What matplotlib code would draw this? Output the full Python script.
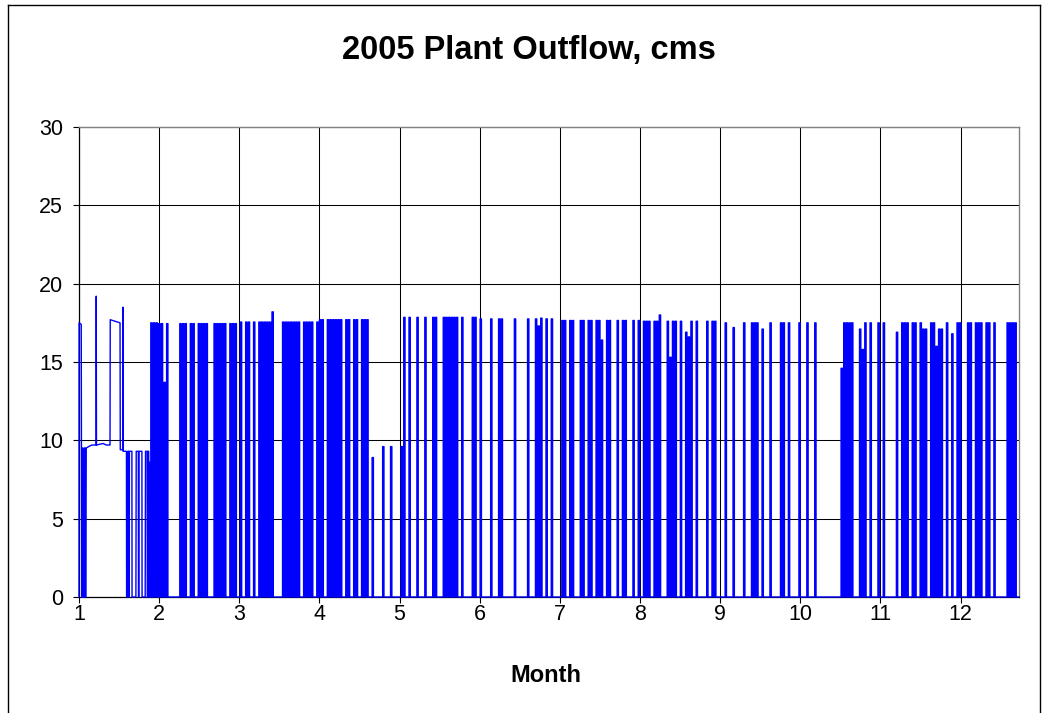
import matplotlib
matplotlib.use("Agg")
import matplotlib.pyplot as plt
from matplotlib.lines import Line2D

plt.rcParams['font.family'] = ['Liberation Sans', 'DejaVu Sans']

# ---------------- data ----------------
title_text = "2005 Plant Outflow, cms"
x_label_text = "Month"
month_ticks = [1, 2, 3, 4, 5, 6, 7, 8, 9, 10, 11, 12]
y_ticks = [0, 5, 10, 15, 20, 25, 30]
x_min, x_max = 1.0, 12.73
y_min, y_max = 0, 30

# January detail (month position, flow in cms)
jan_points = [
    (1.000, 0.0), (1.001, 17.5), (1.028, 17.4), (1.031, 9.5), (1.034, 0.0),
    (1.037, 9.5), (1.040, 0.0), (1.044, 9.5), (1.047, 0.0), (1.051, 6.1),
    (1.055, 0.0), (1.059, 9.5), (1.062, 0.0), (1.066, 9.5), (1.069, 0.0),
    (1.073, 9.5), (1.076, 0.0), (1.080, 9.5), (1.083, 0.0), (1.088, 9.5),
    (1.120, 9.6), (1.160, 9.7), (1.213, 9.7), (1.215, 19.2), (1.218, 9.7),
    (1.300, 9.8), (1.340, 9.7), (1.387, 9.7), (1.390, 17.7), (1.450, 17.6),
    (1.512, 17.5), (1.515, 9.4), (1.545, 9.4), (1.548, 18.5), (1.551, 9.3),
    (1.592, 9.3), (1.594, 0.0), (1.606, 0.0), (1.608, 9.3), (1.620, 9.3),
    (1.622, 0.0), (1.627, 0.0), (1.629, 9.3), (1.660, 9.3), (1.662, 0.0),
    (1.710, 0.0), (1.714, 9.3), (1.740, 9.3), (1.742, 0.0), (1.748, 0.0),
    (1.750, 9.3), (1.785, 9.3), (1.787, 0.0), (1.826, 0.0), (1.830, 9.3),
    (1.850, 9.3), (1.852, 0.0), (1.858, 0.0), (1.860, 9.3), (1.870, 9.3),
    (1.872, 0.0), (1.880, 0.0), (1.882, 8.6), (1.888, 8.6), (1.890, 0.0),
]

# days of year on which the plant released water (one generating pulse per day)
run_days = [
    28, 29, 30, 31, 32, 33, 34,
    39, 40, 41, 43, 44, 46, 47, 48, 49,
    52, 53, 54, 55, 56, 58, 59, 60, 62,
    64, 65, 67, 69, 70, 71, 72, 73, 74,
    78, 79, 80, 81, 82, 83, 84, 86, 87, 88, 89,
    91, 92, 93, 95, 96, 97, 98, 99, 100, 102, 103, 105, 106, 108, 109, 110,
    112, 116, 119, 123, 124,
    126, 129, 132, 135, 136, 139, 140, 141, 142, 143, 144, 146, 150, 151,
    153, 157, 160, 161, 166, 171, 174, 175,
    176, 178, 180, 184, 185, 187, 188, 191, 192, 194, 195, 197, 198, 199,
    201, 202, 205, 207, 208, 211, 213, 215, 216, 217, 219, 220, 221,
    224, 225, 226, 227, 229, 231, 232, 233,
    235, 239, 241, 242, 246, 249, 253, 256, 257, 258, 260, 263, 267, 268,
    270, 274, 277, 280,
    290, 291, 292, 293, 294, 297, 298, 299, 301, 304, 306, 311, 313, 314,
    315, 317, 318, 320, 321, 322, 324, 325, 326, 327, 328, 330, 332, 334,
    335, 338, 339, 341, 342, 343, 345, 346, 348, 353, 354, 355, 356,
]

# typical peak release by month (cms)
peak_by_month = [17.5, 17.45, 17.55, 17.7, 17.85, 17.75, 17.65, 17.6, 17.5, 17.5, 17.5, 17.5]

# days whose release differs from the monthly peak (cms)
special_runs = {
    33: 13.7, 74: 18.2, 112: 8.9, 116: 9.6, 119: 9.6, 123: 9.6, 175: 17.3,
    176: 17.8, 199: 16.4, 221: 18.0, 225: 15.3, 231: 16.9, 232: 16.6,
    249: 17.2, 260: 17.1, 290: 14.6, 297: 17.1, 298: 15.8, 311: 16.9,
    321: 17.1, 322: 17.1, 326: 16.0, 327: 17.1, 328: 17.1, 332: 16.8,
}

days_per_month = 365.0 / 12.0
pulse_on_frac, pulse_off_frac = 0.25, 0.75   # part of the day the units run

# ---------------- build the series ----------------
t = [p[0] for p in jan_points]
v = [p[1] for p in jan_points]
for d in run_days:
    t_on = 1 + (d - 1 + pulse_on_frac) / days_per_month
    t_off = 1 + (d - 1 + pulse_off_frac) / days_per_month
    month = int(1 + (d - 0.45) / days_per_month)
    level = special_runs.get(d, peak_by_month[month - 1])
    t += [t_on, t_on, t_off, t_off]
    v += [0.0, level, level, 0.0]
t.append(x_max)
v.append(0.0)

# ---------------- figure ----------------
W, H = 1047, 713
fig = plt.figure(figsize=(W / 100, H / 100), dpi=100)
fig.patch.set_facecolor('white')

L, R, T, B = 79, 1019, 127, 597
ax = fig.add_axes([L / W, 1 - B / H, (R - L) / W, (B - T) / H])
ax.set_xlim(x_min, x_max)
ax.set_ylim(y_min, y_max)

ax.plot(t, v, color='#0000FF', lw=1.0, clip_on=False, zorder=3)

ax.set_xticks(month_ticks)
ax.set_yticks(y_ticks)
ax.set_axisbelow(True)
ax.grid(True, color='black', lw=0.75)

for side in ['left', 'bottom']:
    ax.spines[side].set_color('black')
    ax.spines[side].set_linewidth(0.9)
for side in ['top', 'right']:
    ax.spines[side].set_color('#808080')
    ax.spines[side].set_linewidth(1.0)

ax.tick_params(axis='both', direction='out', length=4, width=0.8,
               colors='black', labelsize=15.5)
ax.tick_params(axis='y', pad=7.5)
ax.tick_params(axis='x', pad=1.0)

fig.text(529 / W, 1 - 50 / H, title_text, ha='center', va='center',
         fontsize=23.5, fontweight='bold')
fig.text(546 / W, 1 - 675 / H, x_label_text, ha='center', va='center',
         fontsize=17, fontweight='bold')

# chart-area border
bx0, bx1, by0 = 8 / W, 1040 / W, 1 - 5 / H
for xs, ys in [([bx0, bx0], [0, by0]), ([bx0, bx1], [by0, by0]), ([bx1, bx1], [by0, 0])]:
    fig.add_artist(Line2D(xs, ys, transform=fig.transFigure, color='black', lw=1.0))

fig.savefig('out.png', dpi=100)
